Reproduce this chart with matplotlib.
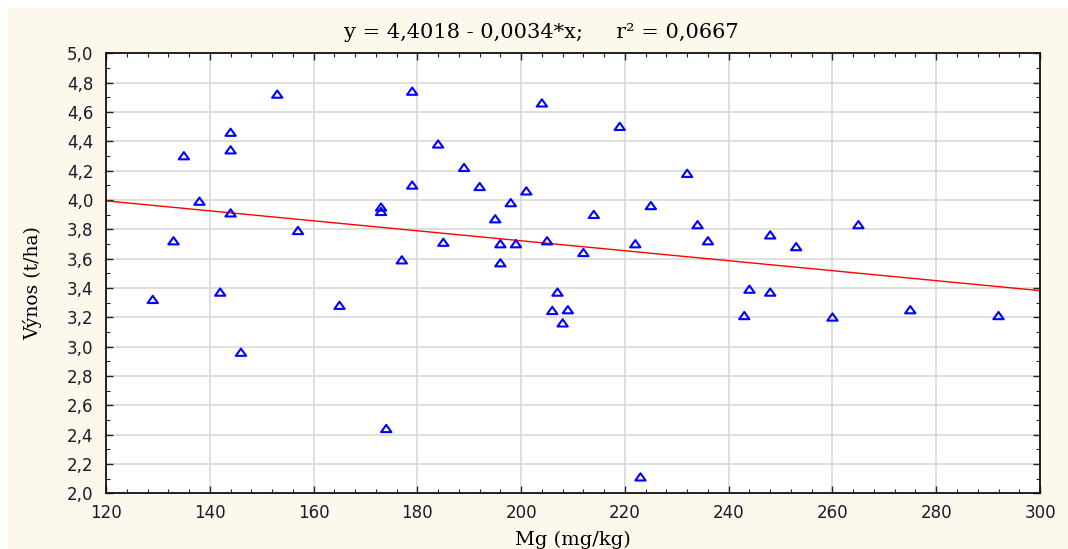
import matplotlib
matplotlib.use("Agg")
import matplotlib.pyplot as plt
import numpy as np
from matplotlib.ticker import MultipleLocator, FuncFormatter
from matplotlib.path import Path
from matplotlib.patches import Rectangle

# Data
mg = [129, 133, 135, 138, 142, 144, 144, 144, 146, 153, 157, 165, 173, 173, 174,
      177, 179, 179, 184, 185, 189, 192, 195, 196, 196, 198, 199, 201, 204, 205,
      206, 207, 208, 209, 212, 214, 219, 222, 223, 225, 232, 234, 236, 243, 244,
      248, 248, 253, 260, 265, 275, 292]
vynos = [3.32, 3.72, 4.30, 3.99, 3.37, 4.46, 4.34, 3.91, 2.96, 4.72, 3.79, 3.28,
         3.95, 3.92, 2.44, 3.59, 4.74, 4.10, 4.38, 3.71, 4.22, 4.09, 3.87, 3.70,
         3.57, 3.98, 3.70, 4.06, 4.66, 3.72, 3.245, 3.37, 3.16, 3.25, 3.64, 3.90,
         4.50, 3.70, 2.11, 3.96, 4.18, 3.83, 3.72, 3.21, 3.39, 3.76, 3.37, 3.68,
         3.20, 3.83, 3.25, 3.21]
intercept = 4.4018
slope = -0.0034
r2 = 0.0667
x_range = [120, 300]

W, H = 1068, 549
fig = plt.figure(figsize=(W / 100, H / 100), dpi=100)
fig.patch.set_facecolor("#FDF8EC")
# thin white margin on the top and left edges, as in the reference
fig.patches.append(Rectangle((0, 1 - 8 / H), 1, 8 / H, transform=fig.transFigure,
                             facecolor="white", edgecolor="none", zorder=-1))
fig.patches.append(Rectangle((0, 0), 8 / W, 1, transform=fig.transFigure,
                             facecolor="white", edgecolor="none", zorder=-1))

ax = fig.add_axes([0.0993, 0.1015, 0.8745, 0.8014])
ax.set_facecolor("white")

# wide, open triangle marker as in the reference
tri = Path([(-1.0, -0.65), (1.0, -0.65), (0.0, 0.75), (-1.0, -0.65)],
           [Path.MOVETO, Path.LINETO, Path.LINETO, Path.CLOSEPOLY])
ax.scatter(mg, vynos, marker=tri, s=55, facecolors="none", edgecolors="#0000FF",
           linewidths=1.5, zorder=3)
xl = np.array(x_range, dtype=float)
ax.plot(xl, intercept + slope * xl, color="#FF0000", lw=1.0, zorder=2)

ax.set_xlim(120, 300)
ax.set_ylim(2.0, 5.0)
ax.xaxis.set_major_locator(MultipleLocator(20))
ax.xaxis.set_minor_locator(MultipleLocator(4))
ax.yaxis.set_major_locator(MultipleLocator(0.2))
ax.yaxis.set_minor_locator(MultipleLocator(0.1))
ax.yaxis.set_major_formatter(FuncFormatter(lambda v, p: f"{v:.1f}".replace(".", ",")))
ax.xaxis.set_major_formatter(FuncFormatter(lambda v, p: f"{v:.0f}"))

ax.grid(True, which="major", color="#D9D9D9", lw=1.2, zorder=0)
ax.set_axisbelow(True)
ax.tick_params(which="both", direction="in", top=True, right=True, color="#222222")
ax.tick_params(which="major", length=5, width=1.0, labelsize=12)
ax.tick_params(axis="y", which="major", pad=9)
ax.tick_params(axis="x", which="major", pad=8)
ax.tick_params(which="minor", length=3, width=0.8)
for lab in ax.get_xticklabels() + ax.get_yticklabels():
    lab.set_family("DejaVu Sans")
    lab.set_color("#1a1a2a")
for sp in ax.spines.values():
    sp.set_linewidth(1.3)
    sp.set_color("#111111")

ax.set_xlabel("Mg (mg/kg)", family="DejaVu Serif", fontsize=14, labelpad=6)
ax.set_ylabel("Výnos (t/ha)", family="DejaVu Serif", fontsize=13.5, labelpad=18)
ax.yaxis.label.set_y(0.478)
fig.text(541 / W, 1 - 32 / H,
         f"y = {intercept:.4f} - {abs(slope):.4f}*x;     r² = {r2:.4f}".replace(".", ","),
         family="DejaVu Serif", fontsize=15, ha="center", va="center")

fig.savefig("out.png", dpi=100, facecolor=fig.get_facecolor())
